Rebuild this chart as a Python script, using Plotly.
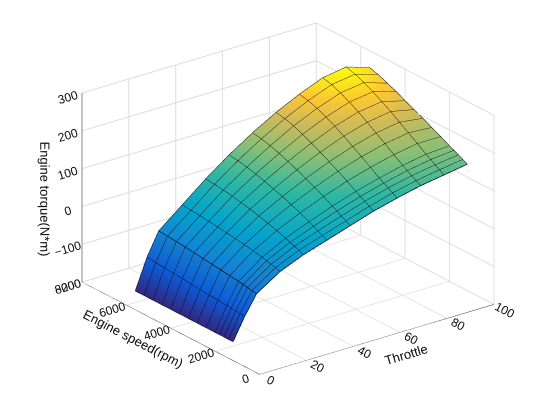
import numpy as np
import plotly.graph_objects as go

throttle = [0, 5, 10, 20, 30, 40, 50, 60, 70, 80, 90, 100]
speed = [1200, 1400, 1600, 1800, 2000, 2400, 2800, 3200, 3600, 4000, 4400, 4800, 5200, 5600]
# torque rows follow speed, columns follow throttle
torque = [
    [-150, -92, -42, -2, 24, 44, 64, 84, 100, 114, 124, 134],
    [-150, -91, -40, 2, 29, 50, 70, 90, 107, 121, 131, 140],
    [-150, -90, -38, 5, 34, 56, 77, 97, 114, 128, 138, 146],
    [-150, -89, -36, 8, 38, 62, 84, 104, 121, 135, 146, 152],
    [-150, -88, -34, 11, 43, 68, 91, 111, 128, 143, 154, 158],
    [-150, -86, -31, 16, 51, 79, 104, 126, 144, 159, 170, 170],
    [-150, -84, -28, 20, 58, 89, 116, 140, 160, 176, 186, 182],
    [-150, -82, -25, 24, 65, 98, 127, 153, 175, 192, 202, 194],
    [-150, -80, -22, 27, 71, 106, 138, 166, 190, 208, 218, 205],
    [-150, -78, -19, 30, 76, 114, 148, 178, 204, 223, 232, 216],
    [-150, -76, -16, 33, 81, 121, 157, 189, 216, 237, 246, 228],
    [-150, -74, -14, 36, 85, 127, 165, 199, 227, 249, 258, 238],
    [-150, -72, -12, 38, 88, 132, 171, 206, 235, 259, 268, 248],
    [-150, -70, -10, 40, 90, 135, 175, 210, 240, 265, 275, 255],
]

parula = [[0, "#352a87"], [0.15, "#0f5cdd"], [0.3, "#1481d6"], [0.45, "#06a4ca"],
          [0.6, "#2eb7a4"], [0.72, "#87bf77"], [0.84, "#d1bb59"], [0.92, "#fec832"], [1, "#f9fb0e"]]

z = np.array(torque)
fig = go.Figure()
fig.add_trace(go.Surface(x=throttle, y=speed, z=z, colorscale=parula, showscale=False,
                         cmin=-150, cmax=275,
                         lighting=dict(ambient=0.9, diffuse=0.2, specular=0.05)))
# mesh lines
for i, s in enumerate(speed):
    fig.add_trace(go.Scatter3d(x=throttle, y=[s] * len(throttle), z=z[i], mode="lines",
                               line=dict(color="black", width=1.5), showlegend=False))
for j, t in enumerate(throttle):
    fig.add_trace(go.Scatter3d(x=[t] * len(speed), y=speed, z=z[:, j], mode="lines",
                               line=dict(color="black", width=1.5), showlegend=False))

ax = dict(showbackground=False, gridcolor="#dcdcdc", zeroline=False, showline=True,
          linecolor="#333", tickfont=dict(size=12, color="#111"), showspikes=False)
fig.update_layout(
    width=560, height=420, margin=dict(l=0, r=0, t=0, b=0),
    paper_bgcolor="white", font=dict(family="Liberation Sans", color="#111"),
    scene=dict(
        xaxis=dict(ax, title=dict(text="Throttle", font=dict(size=13)), range=[0, 100], tickvals=[0, 20, 40, 60, 80, 100]),
        yaxis=dict(ax, title=dict(text="Engine speed(rpm)", font=dict(size=13)), range=[0, 8000], tickvals=[0, 2000, 4000, 6000, 8000]),
        zaxis=dict(ax, title=dict(text="Engine torque(N*m)", font=dict(size=13)), range=[-200, 300], tickvals=[-200, -100, 0, 100, 200, 300]),
        aspectmode="manual", aspectratio=dict(x=1.4, y=1.4, z=0.98),
        camera=dict(eye=dict(x=-1.1, y=-1.45, z=0.68), center=dict(x=0, y=0, z=-0.1),
                    projection=dict(type="orthographic")),
    ),
)
fig.write_html("out.html")
